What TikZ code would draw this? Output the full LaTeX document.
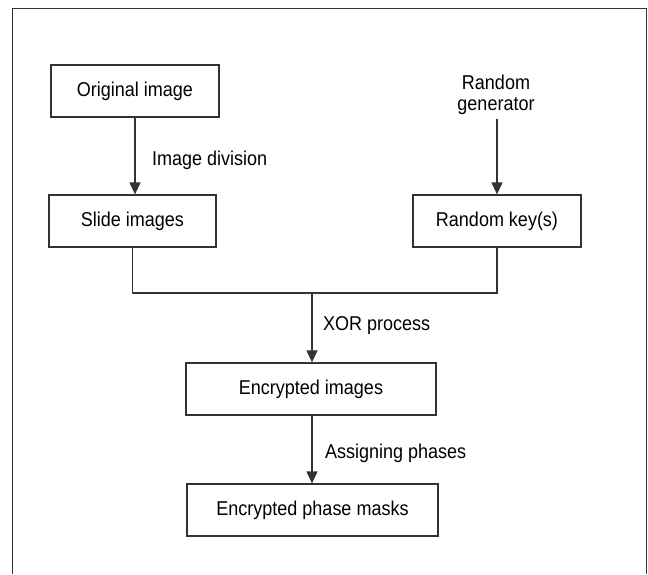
\documentclass[tikz,border=0pt]{standalone}
\usepackage{fontspec}
\setmainfont{Liberation Sans}[FakeStretch=0.9]
\usetikzlibrary{arrows.meta}
\definecolor{linec}{HTML}{333333}
\begin{document}
\begin{tikzpicture}[x=1pt,y=1pt,
  box/.style={draw=linec,line width=1.3pt,minimum height=52pt,inner sep=0pt,font=\fontsize{20}{21}\selectfont},
  lbl/.style={font=\fontsize{20}{21}\selectfont,inner sep=0pt},
  conn/.style={draw=linec,line width=1.3pt},
  arr/.style={conn,-{Triangle[length=12pt,width=11pt]}}]
\useasboundingbox (0,0) rectangle (648,-574);
\draw[conn] (12.5,-574) -- (12.5,-8.3) -- (646.5,-8.3) -- (646.5,-574);
\node[box,minimum width=168pt] (orig) at (135,-91) {Original image};
\node[box,minimum width=167pt] (slide) at (132.5,-221) {Slide images};
\node[box,minimum width=168pt] (key) at (497,-221) {Random key(s)};
\node[lbl,align=center] (gen) at (496,-95) {Random\\generator};
\node[box,minimum width=250pt] (enc) at (311,-389) {Encrypted images};
\node[box,minimum width=251pt] (mask) at (312.5,-510) {Encrypted phase masks};
\coordinate (m) at (312,-293);
\coordinate (gs) at (497,-119);
\draw[arr] (orig.south) -- (orig.south |- slide.north);
\draw[arr] (gs) -- (key.north);
\draw[conn] (slide.south) |- (m) -| (key.south);
\draw[arr] (m) -- (m |- enc.north);
\draw[arr] (enc.south -| m) -- (mask.north -| m);
\node[lbl,anchor=west] (l1) at (152,-160) {Image division};
\node[lbl,anchor=west] (l2) at (323,-326) {XOR process};
\node[lbl,anchor=west] (l3) at (325,-453) {Assigning phases};
\end{tikzpicture}
\end{document}
